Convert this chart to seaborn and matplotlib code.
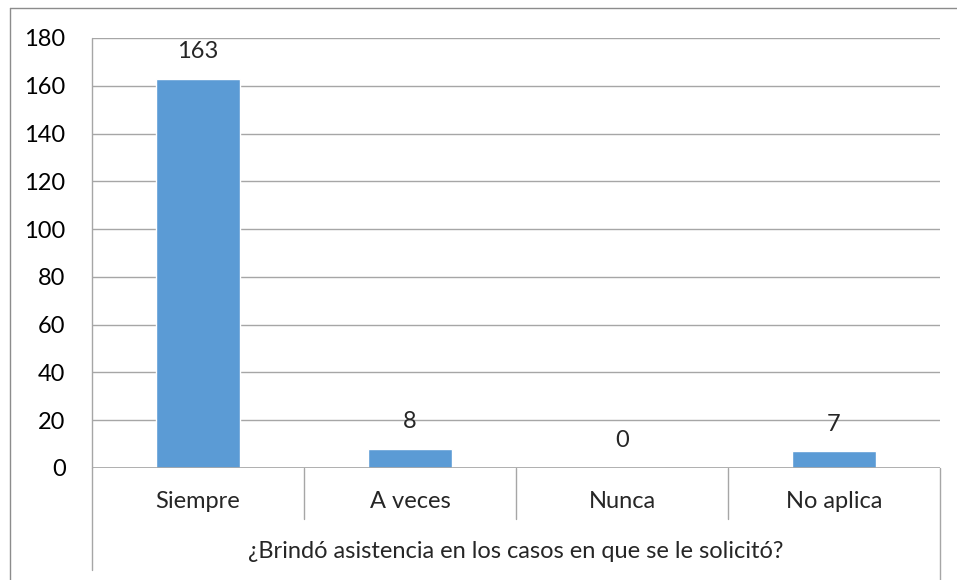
import matplotlib
matplotlib.use("Agg")
import matplotlib.pyplot as plt
from matplotlib.lines import Line2D
import seaborn as sns
import pandas as pd

# data
categories = ["Siempre", "A veces", "Nunca", "No aplica"]
counts = [163, 8, 0, 7]
xlabel = "¿Brindó asistencia en los casos en que se le solicitó?"

df = pd.DataFrame({"cat": categories, "n": counts})

sns.set_style("white")
plt.rcParams["font.family"] = ["Lato", "DejaVu Sans"]
FS = 17

W, H = 957, 580
fig = plt.figure(figsize=(W / 100, H / 100), dpi=100)
ax = fig.add_axes([92 / W, (H - 468) / H, 848 / W, 430 / H])

sns.barplot(data=df, x="cat", y="n", color="#5b9bd5", width=0.4,
            saturation=1, ax=ax, zorder=3)
ax.set_xlim(-0.5, 3.5)
ax.set_ylim(0, 180)
ax.set_yticks(range(0, 181, 20))
ax.yaxis.grid(True, color="#a6a6a6", linewidth=1, zorder=0)
ax.tick_params(axis="y", length=7, color="#a6a6a6", labelsize=FS, pad=12,
               labelcolor="black")
ax.set_xticks([])
ax.set_xlabel("")
ax.set_ylabel("")
for s in ["top", "right", "bottom", "left"]:
    ax.spines[s].set_visible(False)

for i, v in enumerate(counts):
    ax.text(i, v + 7, str(v), ha="center", va="bottom", fontsize=FS)

gc = "#a6a6a6"
px = lambda y: (H - y) / H
# axis lines incl. multi-level category separators
ax.plot([-0.5, -0.5], [0, 180], color=gc, lw=1, clip_on=False)
fig.add_artist(Line2D([92 / W, 92 / W], [px(468), px(570)], color=gc, lw=1))
ax.axhline(0, color=gc, lw=1.2, zorder=4)
for i, cat in enumerate(categories):
    fig.text((92 + 212 * (i + 0.5)) / W, px(501), cat, ha="center", va="center", fontsize=FS)
for b in [1, 2, 3]:
    x = (92 + 212 * b) / W
    fig.add_artist(Line2D([x, x], [px(468), px(519)], color=gc, lw=1))
fig.add_artist(Line2D([940 / W, 940 / W], [px(468), 0], color=gc, lw=1))
fig.text((92 + 940) / 2 / W, px(552), xlabel, ha="center", va="center", fontsize=FS)

# outer chart border
fig.add_artist(Line2D([10 / W, 10 / W], [0, px(8)], color="#8c8c8c", lw=1))
fig.add_artist(Line2D([10 / W, 1], [px(8), px(8)], color="#8c8c8c", lw=1))

fig.savefig("out.png", dpi=100)
